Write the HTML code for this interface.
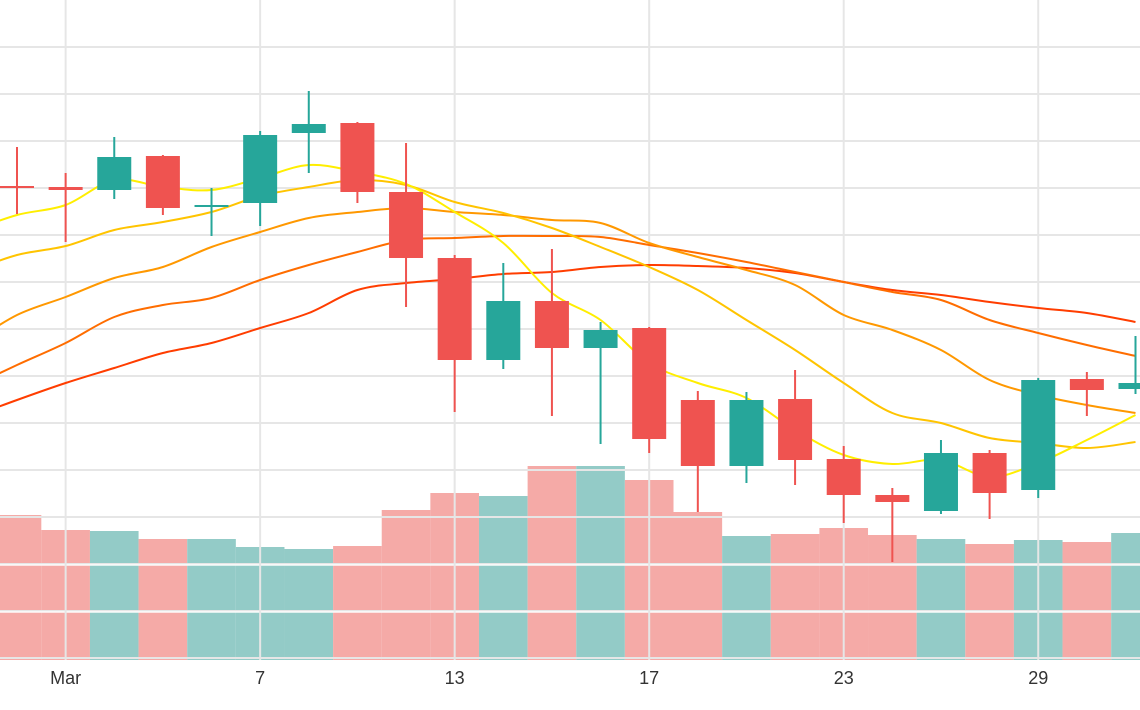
<!DOCTYPE html>
<html><head><meta charset="utf-8"><style>
html,body{margin:0;padding:0;background:#fff;}
svg{display:block;font-family:"Liberation Sans",sans-serif;}
</style></head><body>
<svg id="chart" width="1140" height="710" viewBox="0 0 1140 710" xmlns="http://www.w3.org/2000/svg">
<g id="vol"></g>
<g id="grid"></g>
<g id="ma"></g>
<g id="candles"></g>
<g id="xaxis"></g>
</svg>
<script>
const opens  = [614,613,610,644,594,597,667,677,608,542,440,499,452,472,400,334,401,341,305,289,347,310,421,411];
const closes = [613,610,643,592,595,665,676,608,542,440,499,452,470,361,334,400,340,305,298,347,307,420,410,417];
const highs  = [653,627,663,645,612,669,709,678,657,545,537,551,478,473,409,408,430,354,312,360,350,422,428,464];
const lows   = [586,558,601,585,564,574,627,597,493,388,431,384,356,347,288,317,315,277,238,286,281,302,384,406];
const volumes= [145,130,129,121,121,113,111,114,150,167,164,194,194,180,148,124,126,132,125,121,116,120,118,127];
// moving averages, starting one day before the first visible candle
const ma1 = [568,585,595,620,613,610,622,635,628,616,588,557,507,480,437,417,402,370,345,336,340,323,337,360,385];
const ma2 = [528,545,554,570,578,588,604,613,620,615,598,587,572,553,533,510,480,450,417,387,377,362,357,352,358];
const ma3 = [455,485,503,522,533,553,568,582,588,592,588,585,580,577,557,543,530,515,485,470,450,420,405,395,387];
const ma4 = [412,435,457,483,495,502,520,535,548,560,562,564,564,563,555,547,538,528,518,508,500,480,467,455,444];
const ma5 = [382,400,417,432,447,457,472,487,510,517,521,526,528,533,535,534,532,527,518,510,505,498,492,487,478];
const tickIdx = [1,5,9,13,17,21];
const tickLabels = ["Mar","7","13","17","23","29"];
const priceGrid = [142,189,236,283,330,377,424,471,518,565,612,659,706,753];
const volGrid = [48,95];

const NS="http://www.w3.org/2000/svg";
const step=48.63, x0=17;
const X=i=>x0+i*step;
const Y=p=>800-p;
const VY=v=>660-v;
function mk(tag,attrs,parent){const e=document.createElementNS(NS,tag);for(const k in attrs)e.setAttribute(k,attrs[k]);parent.appendChild(e);return e;}
const G=id=>document.getElementById(id);

volumes.forEach((v,i)=>{
  const up=closes[i]>=opens[i];
  const r=mk('rect',{x:X(i)-step/2,y:VY(v),width:step,height:v,fill:up?'#93cbc7':'#f5aaa7'},G('vol'));
  
  
});
priceGrid.forEach(p=>{
  const l=mk('line',{x1:0,x2:1140,y1:Y(p),y2:Y(p),stroke:'#e6e6e6','stroke-width':2},G('grid'));
  
  
});
volGrid.forEach(v=>{
  const l=mk('line',{x1:0,x2:1140,y1:VY(v),y2:VY(v),stroke:'#ffffff','stroke-opacity':0.7,'stroke-width':2},G('grid'));
  
  
});
tickIdx.forEach((t,k)=>{
  const l=mk('line',{x1:X(t),x2:X(t),y1:0,y2:660,stroke:'#e6e6e6','stroke-width':2},G('grid'));
  
  
  const tx=mk('text',{x:X(t),y:684,'text-anchor':'middle','font-size':18,fill:'#333'},G('xaxis'));
  tx.textContent=tickLabels[k];
  
  
});
function smooth(vals){
  const pts=vals.map((v,i)=>[X(i-1),Y(v)]);
  let d='M'+pts[0][0]+','+pts[0][1];
  for(let i=0;i<pts.length-1;i++){
    const p0=pts[i-1]||pts[i],p1=pts[i],p2=pts[i+1],p3=pts[i+2]||p2;
    const c1=[p1[0]+(p2[0]-p0[0])/6,p1[1]+(p2[1]-p0[1])/6];
    const c2=[p2[0]-(p3[0]-p1[0])/6,p2[1]-(p3[1]-p1[1])/6];
    d+=' C'+c1+' '+c2+' '+p2;
  }
  return d;
}
[[ma5,'#ff3d00','ma-line-5'],[ma4,'#ff6d00','ma-line-4'],[ma3,'#ff9800','ma-line-3'],[ma2,'#ffc400','ma-line-2'],[ma1,'#ffee00','ma-line-1']].forEach(([vals,col,name])=>{
  const p=mk('path',{d:smooth(vals),fill:'none',stroke:col,'stroke-width':2},G('ma'));
  
  
});
opens.forEach((o,i)=>{
  const c=closes[i],up=c>=o,col=up?'#26a69a':'#ef5350';
  const g=mk('g',{},G('candles'));
  
  
  mk('line',{x1:X(i),x2:X(i),y1:Y(highs[i]),y2:Y(lows[i]),stroke:col,'stroke-width':2},g);
  const top=Y(Math.max(o,c)),h=Math.max(Math.abs(o-c),2);
  mk('rect',{x:X(i)-17,y:top,width:34,height:h,fill:col},g);
});
</script>
</body></html>
